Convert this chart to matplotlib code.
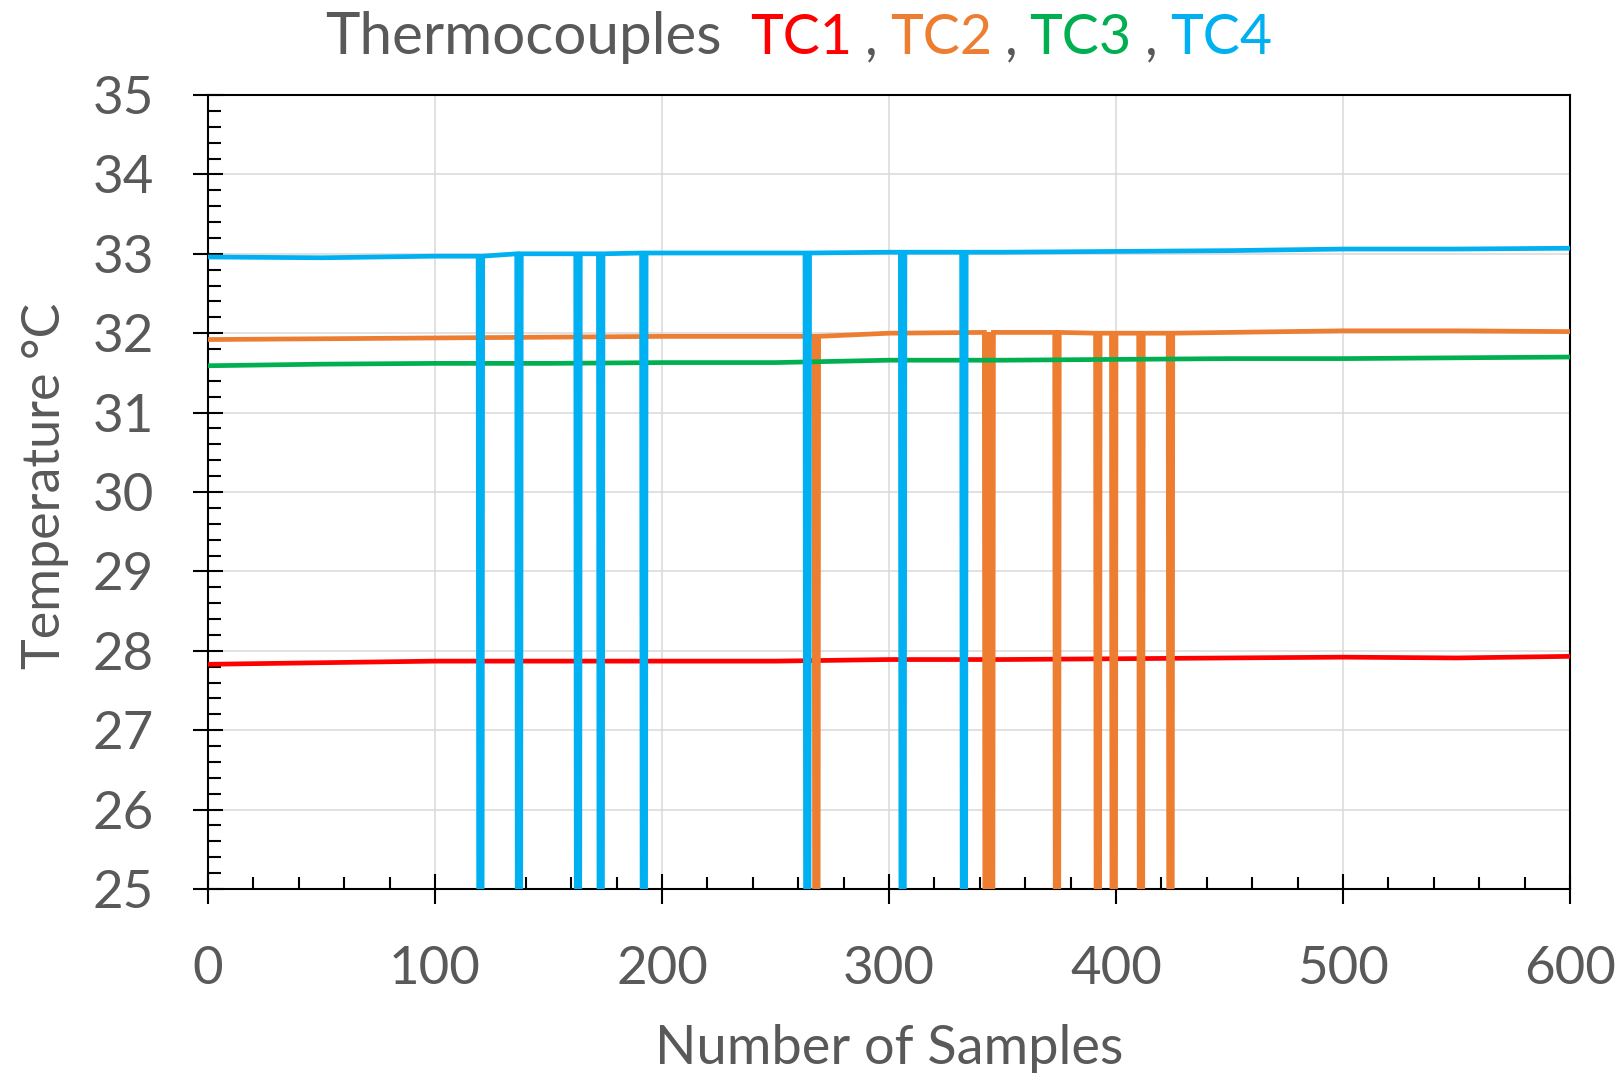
import numpy as np
import matplotlib
matplotlib.use("Agg")
import matplotlib.pyplot as plt
from matplotlib.ticker import MultipleLocator

# ---------------- data ----------------
samples = [0, 50, 100, 150, 200, 250, 300, 350, 400, 450, 500, 550, 600]
tc1 = [27.83, 27.85, 27.87, 27.87, 27.87, 27.87, 27.89, 27.89, 27.90, 27.91, 27.92, 27.91, 27.93]
tc2 = [31.92, 31.93, 31.94, 31.95, 31.96, 31.96, 32.00, 32.01, 32.00, 32.01, 32.03, 32.03, 32.02]
tc3 = [31.59, 31.61, 31.62, 31.62, 31.63, 31.63, 31.66, 31.66, 31.67, 31.68, 31.68, 31.69, 31.70]
tc4 = [32.96, 32.95, 32.97, 33.00, 33.01, 33.01, 33.02, 33.02, 33.03, 33.04, 33.06, 33.06, 33.07]

# samples at which the thermocouple reading dropped out
tc1_drop = []
tc2_drop = [268, 343, 345, 374, 392, 399, 411, 424]
tc3_drop = []
tc4_drop = [120, 137, 163, 173, 192, 264, 306, 333]
drop_value = 0.0

series_names = ["TC1", "TC2", "TC3", "TC4"]
series_colors = ["#FF0000", "#ED7D31", "#00B050", "#00B0F0"]

x_ticks = [0, 100, 200, 300, 400, 500, 600]
y_ticks = [25, 26, 27, 28, 29, 30, 31, 32, 33, 34, 35]

TEXT = "#595959"
FONT = "Lato"


def build(values, drops):
    """Readings plus drop-out spikes (neighbours take the nearest reading)."""
    s = np.asarray(samples, dtype=float)
    v = np.asarray(values, dtype=float)
    pts = {float(a): float(b) for a, b in zip(s, v)}
    drops = sorted(drops)
    dset = set(drops)
    for d in drops:
        for n in (d - 1, d + 1):
            if n not in dset and n not in pts:
                pts[float(n)] = float(v[np.argmin(np.abs(s - n))])
    for d in drops:
        pts[float(d)] = drop_value
    xs = np.array(sorted(pts))
    ys = np.array([pts[k] for k in xs])
    return xs, ys


fig = plt.figure(figsize=(16.22, 10.75), dpi=100)
ax = fig.add_axes([208 / 1622, 1 - 889 / 1075, (1570 - 208) / 1622, (889 - 95) / 1075])

all_vals = [tc1, tc2, tc3, tc4]
all_drops = [tc1_drop, tc2_drop, tc3_drop, tc4_drop]
for vals, drops, col, name in zip(all_vals, all_drops, series_colors, series_names):
    xs, ys = build(vals, drops)
    ax.plot(xs, ys, color=col, lw=3.4, solid_joinstyle="miter", label=name, zorder=3)

ax.set_xlim(0, 600)
ax.set_ylim(25, 35)
ax.set_xticks(x_ticks)
ax.set_yticks(y_ticks)
ax.xaxis.set_minor_locator(MultipleLocator(20))
ax.yaxis.set_minor_locator(MultipleLocator(0.2))

ax.grid(True, which="major", color="#D9D9D9", lw=1.1, zorder=0)
ax.set_axisbelow(True)
for sp in ax.spines.values():
    sp.set_color("black")
    sp.set_linewidth(1.5)

ax.tick_params(axis="both", which="major", direction="inout", length=22, width=1.5,
               color="black", labelcolor=TEXT, labelsize=38)
ax.tick_params(axis="both", which="minor", direction="in", length=9, width=1.5, color="black")
ax.tick_params(axis="x", which="major", pad=30)
ax.tick_params(axis="y", which="major", pad=28)
for lab in ax.get_xticklabels() + ax.get_yticklabels():
    lab.set_fontfamily(FONT)

ax.set_xlabel("Number of Samples", fontsize=39, color=TEXT, fontfamily=FONT)
ax.set_ylabel("Temperature °C", fontsize=37.5, color=TEXT, fontfamily=FONT)
ax.xaxis.set_label_coords(0.5, -0.201)
ax.xaxis.label.set_va("center")
ax.yaxis.set_label_coords(-0.1195, 0.508)
ax.yaxis.label.set_va("center")

# multi-coloured title
title_parts = [("Thermocouples", TEXT, 325, 42), ("TC1", series_colors[0], 750, 40),
               (",", TEXT, 865, 40), ("TC2", series_colors[1], 890, 40), (",", TEXT, 1005, 40),
               ("TC3", series_colors[2], 1029, 40), (",", TEXT, 1145, 40),
               ("TC4", series_colors[3], 1170, 40)]
for txt, col, xpx, fs in title_parts:
    fig.text(xpx / 1622, 1 - 54 / 1075, txt, color=col, fontsize=fs, fontfamily=FONT,
             ha="left", va="baseline")

fig.savefig("out.png", dpi=100)
